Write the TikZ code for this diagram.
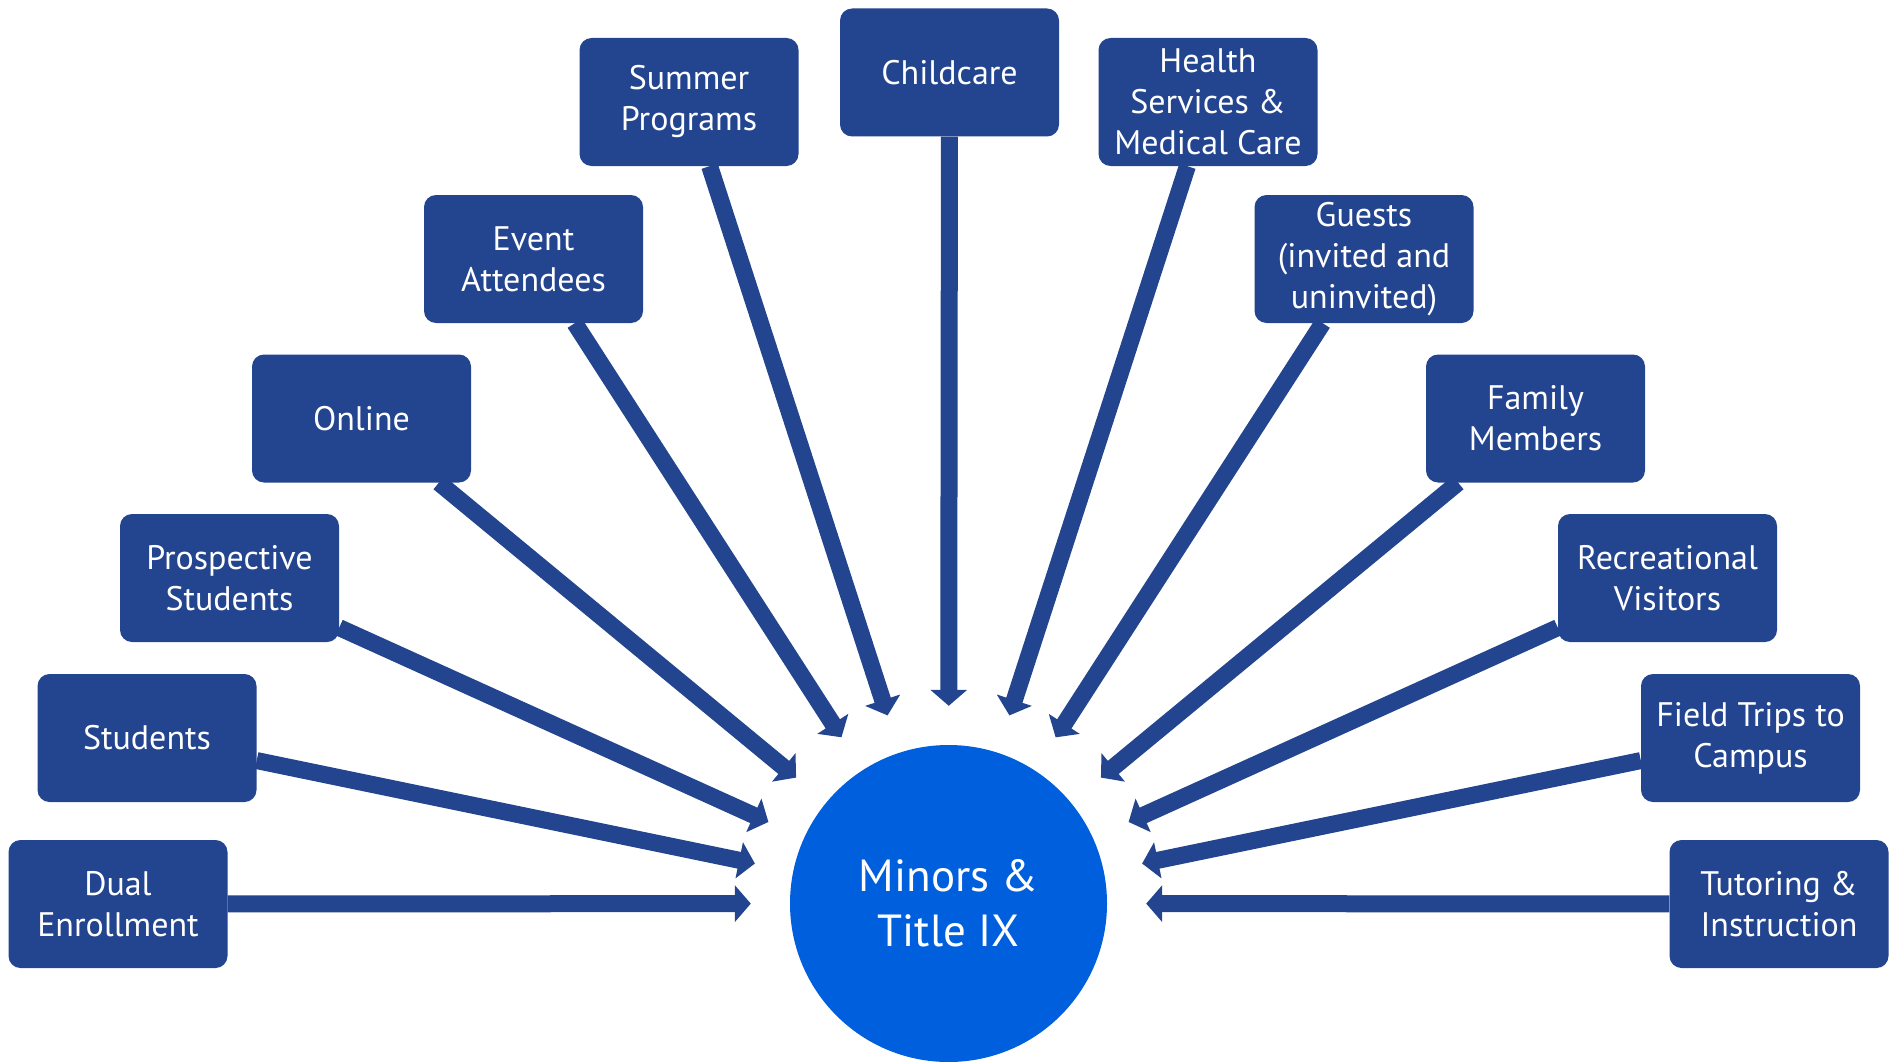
\documentclass[tikz,border=0pt]{standalone}
\usepackage{fontspec}
\setmainfont{PT Sans}
\usetikzlibrary{arrows.meta}
\definecolor{boxblue}{RGB}{35,68,143}
\definecolor{hubblue}{RGB}{0,95,220}
\tikzset{
  groupbox/.style= {
    rectangle,
    rounded corners = 12pt,
    fill = boxblue,
    text = white,
    minimum width = 219pt,
    minimum height = 128pt,
    inner sep = 2pt,
    align = center,
    font = \fontsize{34}{41}\selectfont
  },
  hubnode/.style= {
    circle,
    fill = hubblue,
    text = white,
    minimum size = 317pt,
    inner sep = 0pt,
    align = center,
    font = \fontsize{45}{55}\selectfont
  },
  feed/.style= {
    draw = boxblue,
    line width = 17pt,
    -{Triangle[length=16pt,width=36pt]},
    shorten >= 39pt
  }
}

\begin{document}
\begin{tikzpicture}[x=1pt,y=-1pt]

  \useasboundingbox (0,0) rectangle (1897,1062);
  \clip (0,0) rectangle (1897,1062);

  % centre
  \node[hubnode] (hub) at (948.5,903.5) {Minors \&\\Title IX};

  % left side
  \node[groupbox] (dual) at (118,904) {Dual\\Enrollment};
  \node[groupbox] (students) at (147,738) {Students};
  \node[groupbox] (prospective) at (229.5,578) {Prospective\\Students};
  \node[groupbox] (online) at (361.5,418.5) {Online};
  \node[groupbox] (event) at (533.5,259) {Event\\Attendees};
  \node[groupbox] (summer) at (689,102) {Summer\\Programs};

  % top
  \node[groupbox] (childcare) at (949.5,72.5) {Childcare};

  % right side
  \node[groupbox] (health) at (1208,102) {Health\\Services \&\\Medical Care};
  \node[groupbox] (guests) at (1364,259) {Guests\\(invited and\\uninvited)};
  \node[groupbox] (family) at (1535.5,418.5) {Family\\Members};
  \node[groupbox] (recreational) at (1667.5,578) {Recreational\\Visitors};
  \node[groupbox] (fieldtrips) at (1750.5,738) {Field Trips to\\Campus};
  \node[groupbox] (tutoring) at (1779,904) {Tutoring \&\\Instruction};

  % arrows into the centre
  \foreach \src in {dual,students,prospective,online,event,summer,childcare,
                    health,guests,family,recreational,fieldtrips,tutoring}
    \draw[feed] (\src) -- (hub);

\end{tikzpicture}
\end{document}
